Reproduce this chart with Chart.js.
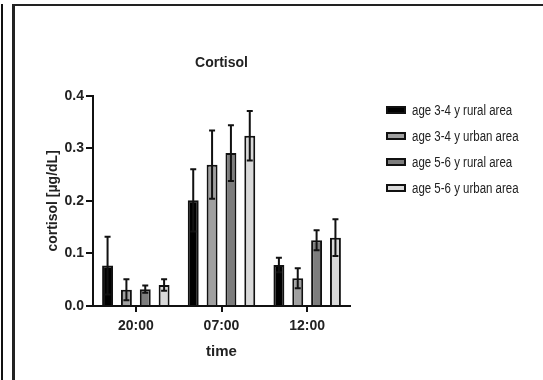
<!DOCTYPE html>
<html>
<head>
<meta charset="utf-8">
<script src="https://cdn.jsdelivr.net/npm/chart.js@4/dist/chart.umd.min.js"></script>
<style>
  html, body { margin: 0; padding: 0; background: #fff; }
  #wrap { position: relative; width: 543px; height: 380px; overflow: hidden; background: #fff; }
  #c { position: absolute; left: 0; top: 0; }
  .line1 { position: absolute; left: 1px; top: 4px; width: 2px; height: 380px; background: #111; }
  .frame { position: absolute; left: 12px; top: 4px; width: 560px; height: 400px;
           border-left: 3px solid #222; border-top: 2px solid #222; box-sizing: border-box; }
  #legend { position: absolute; left: 386px; top: 0; font-family: 'Liberation Sans', Arial, sans-serif; font-size: 14px; color: #222; }
  .item { position: absolute; left: 0; white-space: nowrap; height: 18px; line-height: 18px; }
  .box { position: absolute; left: 0; top: 5px; width: 20px; height: 8px; border: 2px solid #111; box-sizing: border-box; }
  .lbl { position: absolute; left: 26px; top: 0; transform: scaleX(0.82); transform-origin: 0 50%; }
</style>
</head>
<body>
<div id="wrap">
  <canvas id="c" width="543" height="380"></canvas>
  <div class="line1"></div>
  <div class="frame"></div>
  <div id="legend"></div>
</div>
<script>
// ---- data ----
const categories = ['20:00', '07:00', '12:00'];
const seriesNames = ['age 3-4 y rural area', 'age 3-4 y urban area', 'age 5-6 y rural area', 'age 5-6 y urban area'];
const rural34 = [0.077, 0.201, 0.078];
const urban34 = [0.031, 0.269, 0.053];
const rural56 = [0.032, 0.291, 0.125];
const urban56 = [0.040, 0.324, 0.130];
const errRural34 = [0.055, 0.059, 0.014];
const errUrban34 = [0.020, 0.065, 0.019];
const errRural56 = [0.007, 0.053, 0.019];
const errUrban56 = [0.011, 0.047, 0.035];
const yTicks = [0.0, 0.1, 0.2, 0.3, 0.4];

const seriesValues = [rural34, urban34, rural56, urban56];
const seriesErrors = [errRural34, errUrban34, errRural56, errUrban56];
const seriesColors = ['#000000', '#a0a0a0', '#7d7d7d', '#d9d9d9'];

const SANS = "'Liberation Sans', Arial, sans-serif";

const errorBars = {
  id: 'errorBars',
  afterDatasetsDraw(chart) {
    const ctx = chart.ctx;
    const ys = chart.scales.y;
    ctx.save();
    ctx.strokeStyle = '#111';
    ctx.lineWidth = 2;
    chart.data.datasets.forEach((ds, i) => {
      const meta = chart.getDatasetMeta(i);
      meta.data.forEach((bar, j) => {
        const m = ds.data[j], e = seriesErrors[i][j];
        const yt = ys.getPixelForValue(m + e);
        const yb = ys.getPixelForValue(Math.max(0, m - e));
        const x = bar.x, cw = 3;
        ctx.beginPath();
        ctx.moveTo(x, yb); ctx.lineTo(x, yt);
        ctx.moveTo(x - cw, yt); ctx.lineTo(x + cw, yt);
        ctx.moveTo(x - cw, yb); ctx.lineTo(x + cw, yb);
        ctx.stroke();
      });
    });
    ctx.restore();
  }
};

new Chart(document.getElementById('c'), {
  type: 'bar',
  data: {
    labels: categories,
    datasets: seriesValues.map((vals, i) => ({
      label: seriesNames[i],
      data: vals,
      backgroundColor: seriesColors[i],
      borderColor: '#111',
      borderWidth: 2,
      borderSkipped: 'bottom',
      categoryPercentage: 0.88,
      barPercentage: 0.58
    }))
  },
  options: {
    responsive: false,
    animation: false,
    devicePixelRatio: 1,
    layout: { padding: { left: 0, right: 193, top: 0, bottom: 0 } },
    plugins: {
      legend: { display: false },
      tooltip: { enabled: false },
      title: {
        display: true,
        text: 'Cortisol',
        fullSize: false,
        color: '#222',
        font: { family: SANS, size: 14, weight: 'bold' },
        padding: { top: 55, bottom: 24 }
      }
    },
    scales: {
      x: {
        afterFit(s) { s.height = 74; },
        border: { display: true, color: '#111', width: 2 },
        grid: { display: true, drawOnChartArea: false, drawTicks: true, tickLength: 6, color: '#111', lineWidth: 2, offset: false },
        ticks: { color: '#222', font: { family: SANS, size: 14, weight: 'bold' }, padding: 6 },
        title: { display: true, text: 'time', color: '#222', font: { family: SANS, size: 15, weight: 'bold' }, padding: { top: 0, bottom: 19 } }
      },
      y: {
        min: 0, max: 0.4,
        afterFit(s) { s.width = 93; },
        afterBuildTicks(s) { s.ticks = yTicks.map(v => ({ value: v })); },
        border: { display: true, color: '#111', width: 2 },
        grid: { display: true, drawOnChartArea: false, drawTicks: true, tickLength: 7, color: '#111', lineWidth: 2 },
        ticks: { color: '#222', font: { family: SANS, size: 14, weight: 'bold' }, padding: 2,
                 callback: v => Number(v).toFixed(1) },
        title: { display: true, text: 'cortisol [µg/dL]', color: '#222', font: { family: SANS, size: 14, weight: 'bold' }, padding: { top: 45, bottom: 0 } }
      }
    }
  },
  plugins: [errorBars]
});

// HTML legend built from the series arrays
const legend = document.getElementById('legend');
const rowTops = [101, 127, 153, 179];
seriesNames.forEach((name, i) => {
  const it = document.createElement('div');
  it.className = 'item';
  it.style.top = rowTops[i] + 'px';
  const b = document.createElement('div');
  b.className = 'box';
  b.style.background = seriesColors[i];
  const t = document.createElement('span');
  t.className = 'lbl';
  t.textContent = name;
  it.appendChild(b); it.appendChild(t);
  legend.appendChild(it);
});
</script>
</body>
</html>
